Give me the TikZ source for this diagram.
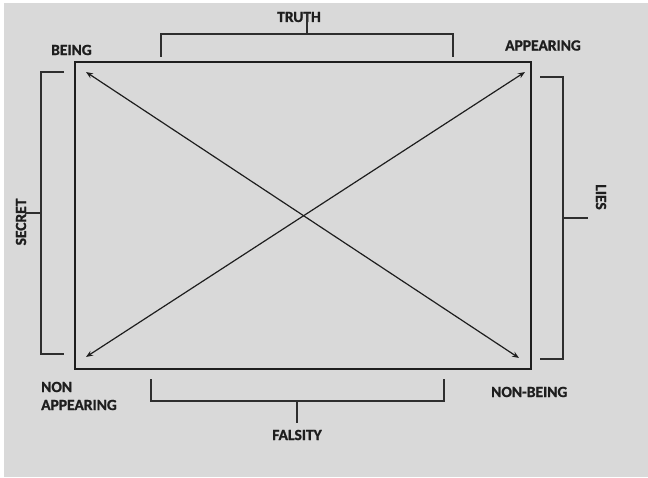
\documentclass[tikz,border=0pt]{standalone}
\usepackage{fontspec}
\setmainfont{Carlito}[BoldFeatures={FakeBold=1.2}]
\usetikzlibrary{arrows.meta}
\definecolor{bg}{HTML}{D9D9D9}
\definecolor{ink}{HTML}{1E1E1E}
\definecolor{brkink}{HTML}{2E2E2E}
\tikzset{
  lbl/.style={font=\bfseries\fontsize{15.5}{18}\selectfont, text=ink, inner sep=0pt},
  frame/.style={draw=ink, line width=2.4pt},
  brk/.style={draw=brkink, line width=2pt},
  diag/.style={draw=ink, line width=1.2pt, {Stealth[length=7pt,width=5.5pt]}-{Stealth[length=7pt,width=5.5pt]}}
}
\begin{document}
\begin{tikzpicture}[x=1pt,y=-1pt]
\useasboundingbox (0,0) rectangle (648,478);
\fill[white] (0,0) rectangle (648,478);
\fill[bg] (4,3) rectangle (648,477);
% main rectangle
\draw[frame] (75,62) rectangle (531,369);
% corner anchors for arrows
\coordinate (tl) at (86,72);
\coordinate (br) at (519,358);
\coordinate (tr) at (525,72);
\coordinate (bl) at (86,357);
\draw[diag] (tl) -- (br);
\draw[diag] (tr) -- (bl);
% top bracket TRUTH
\draw[brk] (161,57) -- (161,34) -- (453,34) -- (453,57);
\coordinate (ts) at (307,34);
\node[lbl] (truth) at (299,17) {TRUTH};
\draw[brk] (ts) -- (307,13);
% bottom bracket FALSITY
\draw[brk] (151,379) -- (151,401) -- (444,401) -- (444,379);
\coordinate (bs) at (297,401);
\coordinate (be) at (297,423);
\node[lbl] (falsity) at (297,435) {FALSITY};
\draw[brk] (bs) -- (be);
% left bracket SECRET
\draw[brk] (64,72) -- (41,72) -- (41,354) -- (64,354);
\coordinate (ls) at (41,213);
\coordinate (le) at (25,213);
\node[lbl, rotate=90] (secret) at (21,222) {SECRET};
\draw[brk] (ls) -- (le);
% right bracket LIES
\draw[brk] (540,77) -- (563,77) -- (563,359) -- (540,359);
\coordinate (rs) at (563,218);
\coordinate (re) at (588,218);
\node[lbl, rotate=-90] (lies) at (601,197) {LIES};
\draw[brk] (rs) -- (re);
% corner labels
\node[lbl, anchor=west] (being) at (51,50) {BEING};
\node[lbl, anchor=west] (appearing) at (505,45.5) {APPEARING};
\node[lbl, anchor=west] (non) at (41,387) {NON};
\node[lbl, anchor=west] (app2) at (41,405) {APPEARING};
\node[lbl, anchor=west] (nonbeing) at (491,392) {NON-BEING};
\end{tikzpicture}
\end{document}
